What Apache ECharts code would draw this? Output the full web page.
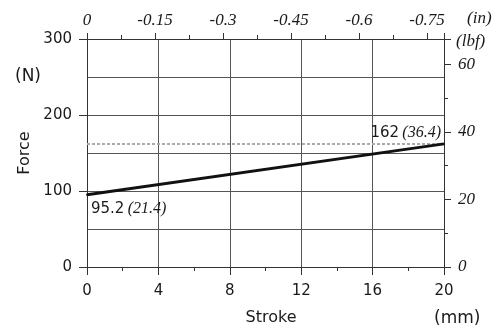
<!DOCTYPE html>
<html>
<head>
<meta charset="utf-8">
<script src="https://cdn.jsdelivr.net/npm/echarts@6/dist/echarts.min.js"></script>
<style>
html,body{margin:0;padding:0;background:#fff;}
#chart{width:496px;height:331px;}
</style>
</head>
<body>
<div id="chart"></div>
<script>
// ---- data ----
const strokeMM = [0, 20];
const forceN = [95.2, 162];
const forceLbf = [21.4, 36.4];
const refForceN = [162];
const inchTickLabels = ['0', '-0.15', '-0.3', '-0.45', '-0.6', '-0.75'];
const lbfTickLabels = ['0', '20', '40', '60'];
const forceTickLabels = ['0', '100', '200', '300'];
const strokeTickLabels = ['0', '4', '8', '12', '16', '20'];

const MM_PER_IN = 25.4;
const N_PER_LBF = 4.44822;

const sans = 'DejaVu Sans';
const serif = 'Liberation Serif';
const txt = '#1a1a1a';
const gridCol = '#555';
const axisCol = '#333';

const chart = echarts.init(document.getElementById('chart'), null, {renderer: 'canvas'});

chart.setOption({
  animation: false,
  backgroundColor: '#fff',
  grid: {left: 87, right: 52, top: 39, bottom: 64, containLabel: false},
  xAxis: [
    {
      type: 'value', position: 'bottom', min: 0, max: 20, interval: 4,
      name: 'Stroke', nameLocation: 'middle', nameGap: 43,
      nameTextStyle: {fontFamily: sans, fontSize: 16, color: txt, padding: [0, 0, 0, 11]},
      axisLine: {show: true, onZero: false, lineStyle: {color: axisCol, width: 1}},
      axisTick: {show: true, length: 8, lineStyle: {color: axisCol}},
      minorTick: {show: true, splitNumber: 2, length: 4, lineStyle: {color: axisCol}},
      splitLine: {show: true, lineStyle: {color: gridCol, width: 1}},
      axisLabel: {fontFamily: sans, fontSize: 15, color: txt, margin: 17,
        formatter: (v, i) => strokeTickLabels[i] ?? ''}
    },
    {
      type: 'value', position: 'top', min: 0, max: 20 / MM_PER_IN, interval: 0.15,
      axisLine: {show: true, onZero: false, lineStyle: {color: axisCol, width: 1}},
      axisTick: {show: true, length: 6, lineStyle: {color: axisCol}},
      minorTick: {show: true, splitNumber: 2, length: 4, lineStyle: {color: axisCol}},
      splitLine: {show: false},
      axisLabel: {fontFamily: serif, fontStyle: 'italic', fontSize: 17, color: txt, margin: 10,
        showMaxLabel: false,
        formatter: (v, i) => inchTickLabels[i] ?? ''}
    }
  ],
  yAxis: [
    {
      type: 'value', position: 'left', min: 0, max: 300, interval: 100,
      name: 'Force', nameLocation: 'middle', nameGap: 54,
      nameTextStyle: {fontFamily: sans, fontSize: 16, color: txt},
      axisLine: {show: true, onZero: false, lineStyle: {color: axisCol, width: 1}},
      axisTick: {show: true, length: 8, lineStyle: {color: axisCol}},
      minorTick: {show: false, splitNumber: 2},
      splitLine: {show: true, lineStyle: {color: gridCol, width: 1}},
      minorSplitLine: {show: true, lineStyle: {color: gridCol, width: 1}},
      axisLabel: {fontFamily: sans, fontSize: 15, color: txt, margin: 15,
        formatter: (v, i) => forceTickLabels[i] ?? ''}
    },
    {
      type: 'value', position: 'right', min: 0, max: 300 / N_PER_LBF, interval: 20,
      axisLine: {show: true, onZero: false, lineStyle: {color: axisCol, width: 1}},
      axisTick: {show: true, length: 7, lineStyle: {color: axisCol}},
      minorTick: {show: true, splitNumber: 2, length: 4, lineStyle: {color: axisCol}},
      splitLine: {show: false},
      axisLabel: {fontFamily: serif, fontStyle: 'italic', fontSize: 17, color: txt, margin: 14,
        showMaxLabel: false,
        formatter: (v, i) => lbfTickLabels[i] ?? ''}
    }
  ],
  graphic: [
    {type: 'text', x: 15, y: 77, style: {text: '(N)', font: '17px "DejaVu Sans"', fill: txt, align: 'left', verticalAlign: 'middle'}},
    {type: 'text', x: 434, y: 319, style: {text: '(mm)', font: '17px "DejaVu Sans"', fill: txt, align: 'left', verticalAlign: 'middle'}},
    {type: 'text', x: 467, y: 19, style: {text: '(in)', font: 'italic 17px "Liberation Serif"', fill: txt, align: 'left', verticalAlign: 'middle'}},
    {type: 'text', x: 456, y: 42, style: {text: '(lbf)', font: 'italic 17px "Liberation Serif"', fill: txt, align: 'left', verticalAlign: 'middle'}}
  ],
  series: [
    {
      type: 'line',
      xAxisIndex: 0, yAxisIndex: 0,
      data: strokeMM.map((x, i) => {
        const item = {value: [x, forceN[i]]};
        item.label = i === 0
          ? {position: [5, 15], align: 'left', verticalAlign: 'middle'}
          : {position: [-2, -10], align: 'right', verticalAlign: 'middle'};
        return item;
      }),
      showSymbol: true, symbol: 'circle', symbolSize: 2,
      itemStyle: {color: '#111'},
      lineStyle: {color: '#111', width: 3},
      label: {
        show: true,
        formatter: p => `{n|${forceN[p.dataIndex]}} {l|(${forceLbf[p.dataIndex]})}`,
        rich: {
          n: {fontFamily: sans, fontSize: 15, color: txt},
          l: {fontFamily: serif, fontStyle: 'italic', fontSize: 16, color: txt}
        }
      },
      markLine: {
        silent: true, symbol: 'none',
        label: {show: false},
        lineStyle: {type: [3, 2], color: '#aaa', width: 2},
        data: refForceN.map(v => ({yAxis: v}))
      },
      z: 5
    }
  ]
});
</script>
</body>
</html>
